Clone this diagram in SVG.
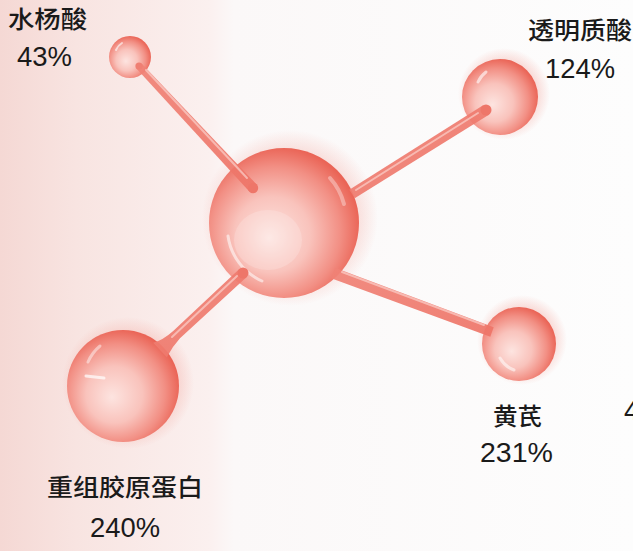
<svg xmlns="http://www.w3.org/2000/svg" width="633" height="551" viewBox="0 0 633 551">
  <style>
    .lbl { font-family: "Liberation Sans", "Noto Sans CJK SC", sans-serif; fill: #1a1a1a; text-anchor: start; }
    .cjk { font-size: 24px; font-weight: 500; }
    .num { font-size: 27px; }
    .stick { fill: url(#stickGrad); opacity: 0.92; }
    .stickHi { stroke: #fbd0ca; stroke-width: 2; stroke-linecap: round; fill: none; opacity: 0.7; }
    .shine { fill: none; stroke: #ffffff; stroke-linecap: round; }
  </style>
  <defs>
    <linearGradient id="bg" x1="0" y1="0" x2="1" y2="0">
      <stop offset="0" stop-color="#f5d8d4"/>
      <stop offset="0.12" stop-color="#f8e4e1"/>
      <stop offset="0.33" stop-color="#fbf0ef"/>
      <stop offset="0.37" stop-color="#fbf8f8"/>
      <stop offset="1" stop-color="#fdfdfd"/>
    </linearGradient>
    <radialGradient id="ball" cx="0.45" cy="0.55" r="0.56" fx="0.4" fy="0.6">
      <stop offset="0" stop-color="#fde4e0"/>
      <stop offset="0.45" stop-color="#f9c3bc"/>
      <stop offset="0.78" stop-color="#f28f84"/>
      <stop offset="1" stop-color="#ea6456"/>
    </radialGradient>
    <radialGradient id="glow" cx="0.5" cy="0.5" r="0.5">
      <stop offset="0.6" stop-color="#f08a7e" stop-opacity="0.4"/>
      <stop offset="1" stop-color="#f08a7e" stop-opacity="0"/>
    </radialGradient>
    <linearGradient id="stickGrad" x1="0" y1="0" x2="1" y2="1">
      <stop offset="0" stop-color="#f08276"/>
      <stop offset="1" stop-color="#ee7467"/>
    </linearGradient>
  </defs>

  <rect x="0" y="0" width="633" height="551" fill="url(#bg)"/>

  <!-- soft halos behind the balls -->
  <g id="halos">
    <circle cx="290" cy="218" r="88" fill="url(#glow)"/>
    <circle cx="504" cy="94" r="46" fill="url(#glow)"/>
    <circle cx="128" cy="383" r="66" fill="url(#glow)"/>
    <circle cx="522" cy="340" r="45" fill="url(#glow)"/>
  </g>

  <g id="node-center">
    <circle cx="284" cy="223" r="75" fill="url(#ball)"/>
    <path class="shine" d="M 228 236 A 58 58 0 0 0 262 281" stroke-width="3" opacity="0.55"/>
    <path class="shine" d="M 330 178 A 62 62 0 0 1 344 204" stroke-width="4" opacity="0.35"/>
    <ellipse cx="268" cy="240" rx="34" ry="30" fill="#ffffff" opacity="0.18"/>
  </g>

  <g id="node-salicylic">
    <circle cx="130" cy="57" r="21" fill="url(#ball)"/>
    <path class="shine" d="M 116 50 A 15 15 0 0 1 122 43" stroke-width="2" opacity="0.6"/>
    <text class="lbl cjk" x="8" y="28" textLength="79" lengthAdjust="spacingAndGlyphs">水杨酸</text>
    <text class="lbl num" x="17" y="66" textLength="55" lengthAdjust="spacingAndGlyphs">43%</text>
  </g>

  <g id="node-hyaluronic">
    <circle cx="500" cy="97" r="38" fill="url(#ball)"/>
    <path class="shine" d="M 478 82 A 26 26 0 0 1 486 72" stroke-width="3" opacity="0.6"/>
    <text class="lbl cjk" x="528" y="38.5" textLength="104" lengthAdjust="spacingAndGlyphs">透明质酸</text>
    <text class="lbl num" x="545" y="78" textLength="70" lengthAdjust="spacingAndGlyphs">124%</text>
  </g>

  <g id="node-collagen">
    <circle cx="123" cy="386" r="56" fill="url(#ball)"/>
    <path class="shine" d="M 86 376 L 104 378" stroke-width="3" opacity="0.7"/>
    <path class="shine" d="M 88 362 A 42 42 0 0 1 100 346" stroke-width="3" opacity="0.45"/>
    <text class="lbl cjk" x="47" y="495.5" textLength="156" lengthAdjust="spacingAndGlyphs">重组胶原蛋白</text>
    <text class="lbl num" x="90" y="537" textLength="70" lengthAdjust="spacingAndGlyphs">240%</text>
  </g>

  <g id="node-astragalus">
    <circle cx="519" cy="344" r="37" fill="url(#ball)"/>
    <path class="shine" d="M 500 358 A 26 26 0 0 0 514 370" stroke-width="3" opacity="0.55"/>
    <text class="lbl cjk" x="493" y="424.5" textLength="49" lengthAdjust="spacingAndGlyphs">黄芪</text>
    <text class="lbl num" x="480" y="462" textLength="73" lengthAdjust="spacingAndGlyphs">231%</text>
  </g>

  <!-- label running off the right edge -->
  <text class="lbl num" x="624" y="420">4</text>

  <g id="connectors">
    <!-- center to salicylic -->
    <polygon class="stick" points="256.7,184.6 141.6,63.6 136.4,68.4 249.3,191.4"/>
    <circle cx="253" cy="188" r="5.2" fill="#ee7669"/>
    <circle cx="139" cy="66" r="3.6" fill="#ef7f73"/>
    <line class="stickHi" x1="247" y1="178" x2="146" y2="70"/>
    <!-- center to hyaluronic -->
    <polygon class="stick" points="349.3,189.8 483.1,105.3 488.9,114.7 354.7,198.2"/>
    <circle cx="486" cy="110" r="5.5" fill="#ee7669"/>
    <line class="stickHi" x1="356" y1="190" x2="478" y2="113"/>
    <!-- center to collagen -->
    <path class="stick" d="M 239.3 269 L 173.2 330.9 Q 163 340 153.2 342.7 L 166.8 357.3 Q 172 347 180 338.3 L 246.7 277 Z"/>
    <circle cx="243" cy="273" r="5.5" fill="#ee7669"/>
    <line class="stickHi" x1="237" y1="276" x2="172" y2="337"/>
    <!-- center to astragalus -->
    <polygon class="stick" points="334.9,267.8 493.7,327.3 490.3,336.7 331.1,278.2"/>
    <line class="stickHi" x1="342" y1="272" x2="484" y2="325"/>
  </g>
</svg>
